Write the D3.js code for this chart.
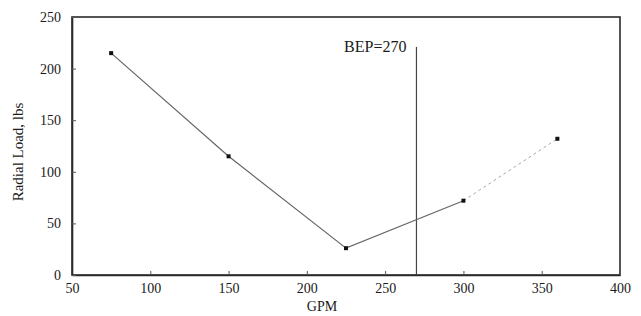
<!DOCTYPE html>
<html>
<head>
<meta charset="utf-8">
<script src="https://cdn.jsdelivr.net/npm/d3@7"></script>
<style>
  body { margin: 0; background: #fff; }
  text { font-family: "Liberation Serif", "DejaVu Serif", serif; fill: #1a1a1a; }
</style>
</head>
<body>
<div id="chart"></div>
<script>
const gpm = [75, 150, 225, 300, 360];
const radialLoad = [215, 115, 26, 72, 132];
const xTicks = [50, 100, 150, 200, 250, 300, 350, 400];
const yTicks = [0, 50, 100, 150, 200, 250];
const bepGpm = 270;
const bepTop = 221;
const bepLabel = "BEP=270";

const svg = d3.select("#chart")
    .append("svg")
    .attr("width", 641)
    .attr("height", 316);

const x = d3.scaleLinear().domain([50, 400]).range([72, 620]);
const y = d3.scaleLinear().domain([0, 250]).range([275, 17]);

// frame
svg.append("rect")
    .attr("x", x(50)).attr("y", y(250))
    .attr("width", x(400) - x(50)).attr("height", y(0) - y(250))
    .attr("fill", "none").attr("stroke", "#2a2a2a").attr("stroke-width", 1.6);

// axes, ticks pointing in
const xAxis = svg.append("g")
    .attr("transform", `translate(0,${y(0)})`)
    .call(d3.axisBottom(x).tickValues(xTicks).tickSizeInner(-4).tickSizeOuter(0).tickPadding(8));
const yAxis = svg.append("g")
    .attr("transform", `translate(${x(50)},0)`)
    .call(d3.axisLeft(y).tickValues(yTicks).tickSizeInner(-4).tickSizeOuter(0).tickPadding(11));
[xAxis, yAxis].forEach(a => {
    a.select(".domain").attr("stroke", "#2a2a2a").attr("stroke-width", 1.6);
    a.selectAll(".tick line").attr("stroke", "#555");
    a.selectAll(".tick text").style("font-size", "14px").attr("fill", "#1a1a1a");
});

svg.append("text")
    .attr("x", 322).attr("y", 311)
    .attr("text-anchor", "middle")
    .style("font-size", "14px")
    .text("GPM");

svg.append("text")
    .attr("transform", "translate(23,152) rotate(-90)")
    .attr("text-anchor", "middle")
    .style("font-size", "15px")
    .text("Radial Load, lbs");

// BEP line
svg.append("line")
    .attr("x1", x(bepGpm)).attr("x2", x(bepGpm))
    .attr("y1", y(bepTop)).attr("y2", y(0))
    .attr("stroke", "#444").attr("stroke-width", 1.2);
svg.append("text")
    .attr("x", x(bepGpm) - 10).attr("y", y(bepTop) + 5)
    .attr("text-anchor", "end")
    .style("font-size", "16px")
    .text(bepLabel);

const pts = gpm.map((g, i) => ({ g: g, v: radialLoad[i] }));
const line = d3.line().x(d => x(d.g)).y(d => y(d.v));

// solid part
svg.append("path")
    .datum(pts.slice(0, 4))
    .attr("d", line)
    .attr("fill", "none").attr("stroke", "#666").attr("stroke-width", 1.2);

// faded last segment
svg.append("path")
    .datum(pts.slice(3))
    .attr("d", line)
    .attr("fill", "none").attr("stroke", "#aaa").attr("stroke-width", 1)
    .attr("stroke-dasharray", "3,3");

svg.selectAll("rect.pt")
    .data(pts)
    .join("rect")
    .attr("class", "pt")
    .attr("x", d => x(d.g) - 2).attr("y", d => y(d.v) - 2)
    .attr("width", 4).attr("height", 4)
    .attr("fill", "#111");
</script>
</body>
</html>
